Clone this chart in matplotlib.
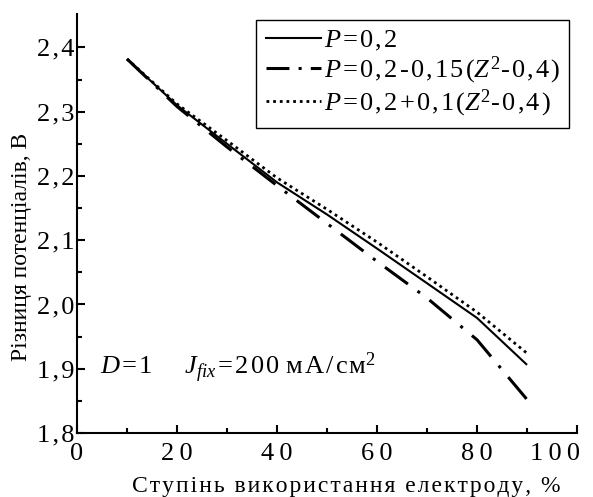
import matplotlib
matplotlib.use("Agg")
import matplotlib.pyplot as plt
from matplotlib.lines import Line2D
import matplotlib.transforms as mtransforms

plt.rcParams['font.family'] = ['Liberation Serif', 'DejaVu Serif']
plt.rcParams['mathtext.fontset'] = 'custom'
plt.rcParams['mathtext.rm'] = 'Liberation Serif'
plt.rcParams['mathtext.it'] = 'Liberation Serif:italic'

# ---- data ----
x_vals = [10, 20, 30, 40, 50, 60, 70, 80, 90]
p_const = [2.382, 2.310, 2.250, 2.190, 2.140, 2.087, 2.033, 1.979, 1.906]
p_minus = [2.382, 2.308, 2.245, 2.185, 2.126, 2.067, 2.010, 1.945, 1.852]
p_plus = [2.382, 2.312, 2.255, 2.197, 2.148, 2.097, 2.043, 1.988, 1.924]

H = '\u200a'
series_labels = [r'$P$' + H + '=' + H + '0' + H + ',' + H + '2',
                 r'$P$' + H + '=' + H + H.join('0,2-0,15(') + r'$Z^2$' + H.join('-0,4)'),
                 r'$P$' + H + '=' + H + H.join('0,2+0,1(') + r'$Z^2$' + H.join('-0,4)')]
x_ticks = [0, 20, 40, 60, 80, 100]
x_ticklabels = ['0', '20', '40', '60', '80', '100']
y_ticks = [1.8, 1.9, 2.0, 2.1, 2.2, 2.3, 2.4]
y_ticklabels = ['1,8', '1,9', '2,0', '2,1', '2,2', '2,3', '2,4']
xlabel = 'Ступінь використання електроду, %'
ylabel = 'Різниця потенціалів, В'


def spaced(s, sp):
    return sp.join(list(s))


fig = plt.figure(figsize=(5.93, 4.97), dpi=100)
ax = fig.add_axes([0.1299, 0.1288, 0.8432, 0.843])

ax.plot(x_vals, p_const, color='black', lw=1.5, solid_capstyle='butt')
ax.plot(x_vals, p_minus, color='black', lw=2.2, dashes=(9.3, 3.9, 1.0, 3.9))
ax.plot(x_vals, p_plus, color='black', lw=2.0, dashes=(1.0, 1.4))

ax.set_xlim(0, 100)
ax.set_ylim(1.8, 2.452)
ax.spines['top'].set_visible(False)
ax.spines['right'].set_visible(False)
for s in ('left', 'bottom'):
    ax.spines[s].set_linewidth(1.5)

ax.set_xticks(x_ticks)
ax.set_xticklabels([spaced(t, '\u2009') for t in x_ticklabels])
ax.set_xticks([10, 30, 50, 70, 90], minor=True)
ax.set_yticks(y_ticks)
ax.set_yticklabels([spaced(t, H) for t in y_ticklabels])
ax.set_yticks([1.85, 1.95, 2.05, 2.15, 2.25, 2.35], minor=True)
ax.tick_params(which='both', direction='in', width=1.5, labelsize=19)
ax.tick_params(which='major', length=6)
ax.tick_params(which='minor', length=3.5)
ax.tick_params(axis='x', pad=7)
ax.tick_params(axis='y', pad=2)

last = ax.get_xticklabels()[-1]
last.set_horizontalalignment('right')
last.set_transform(last.get_transform() + mtransforms.ScaledTranslation(3 / 100, 0, fig.dpi_scale_trans))

fig.text(346 / 593, 1 - 492 / 497, spaced(xlabel, H), fontsize=17,
         ha='center', va='baseline')
ax.set_ylabel(ylabel, fontsize=17)
ax.yaxis.set_label_coords(-0.09, 0.444)

ann = r'$D$' + H + '=' + H + '1     ' + r'$J_{fix}$' + H + '=' + H + H.join('200') + ' ' + H.join('мА/см') + r'$^2$'
ax.text(0.046, 0.155, ann, transform=ax.transAxes, fontsize=19, va='center', ha='left')

handles = [
    Line2D([], [], color='black', lw=1.5),
    Line2D([], [], color='black', lw=2.2, dashes=(7.5, 3.0, 1.0, 3.0)),
    Line2D([], [], color='black', lw=2.0, dashes=(1.0, 1.4)),
]
leg = ax.legend(handles, series_labels, loc='upper right', bbox_to_anchor=(0.984, 0.986),
                borderaxespad=0, fancybox=False, edgecolor='black', fontsize=19,
                handlelength=2.1, handletextpad=0.1, labelspacing=0.05,
                borderpad=0.35, framealpha=1)
leg.get_frame().set_linewidth(1.0)

fig.savefig('out.png', dpi=100)
